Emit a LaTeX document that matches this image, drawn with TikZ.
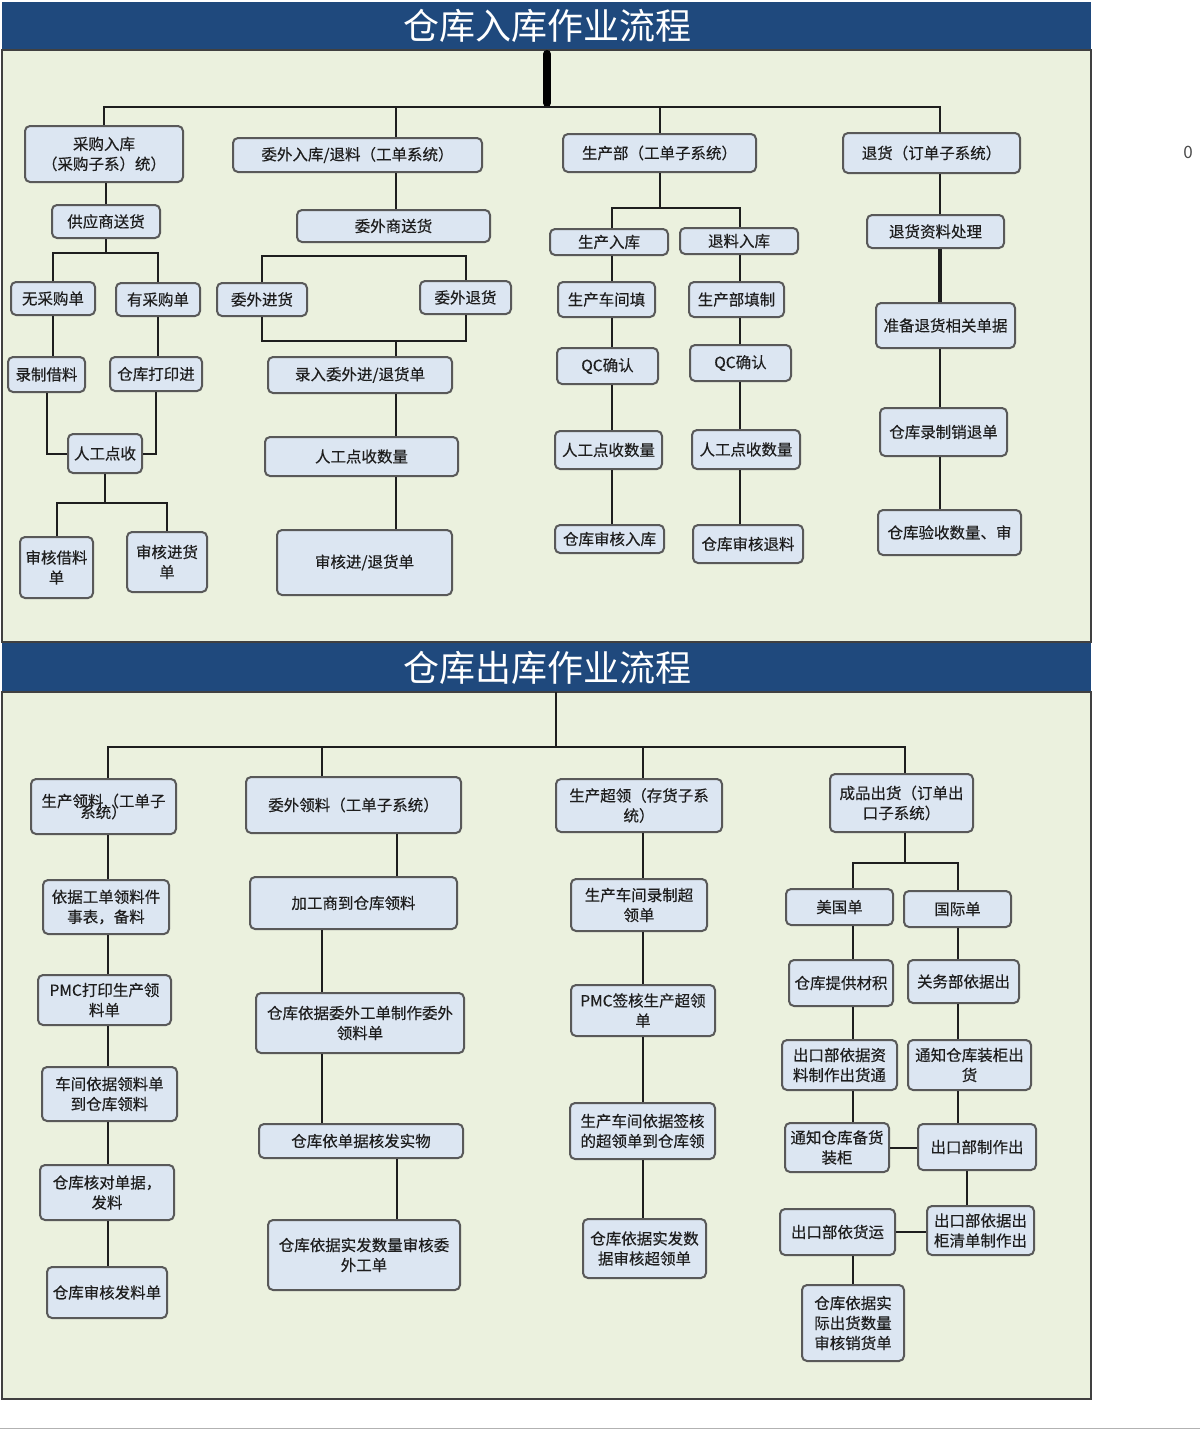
\documentclass[tikz,border=0pt]{standalone}
\usepackage{fontspec}
\setmainfont{Noto Sans CJK SC}
\newfontfamily\boxfont{Noto Sans CJK SC}[FakeBold=0.3]
\definecolor{barblue}{HTML}{1F497D}
\definecolor{panelgreen}{HTML}{EBF1DE}
\definecolor{boxfill}{HTML}{DCE6F2}
\definecolor{boxline}{HTML}{595959}
\definecolor{txt}{HTML}{1E1E1E}

\begin{document}
\begin{tikzpicture}[x=1pt,y=-1pt,
    box/.style={draw=boxline, fill=boxfill, line width=2pt, rounded corners=5pt,
      inner sep=1pt, align=center, text=txt, font=\boxfont\fontsize{15.5}{20}\selectfont},
    conn/.style={draw=txt, line width=2pt},
    heading/.style={text=white, font=\fontsize{36}{40}\selectfont}]
    \useasboundingbox (0,0) rectangle (1200,1429);
    \fill[white] (0,0) rectangle (1200,1429);
    \draw[black!30, line width=1pt] (0,1428) -- (1200,1428);

    \fill[barblue] (2,2) rectangle (1091,50);
    \filldraw[fill=panelgreen, draw=black!75, line width=1.5pt] (2,50) rectangle (1091,642);
    \fill[barblue] (2,643) rectangle (1091,692);
    \filldraw[fill=panelgreen, draw=black!75, line width=1.5pt] (2,692) rectangle (1091,1399);
    \node[heading] (ttl1) at (547,26) {仓库入库作业流程};
    \node[heading] (ttl2) at (547,668) {仓库出库作业流程};
    \node[text=black!70, font=\fontsize{17}{20}\selectfont] (zero) at (1188,152) {0};

    \node[box, minimum width=158, minimum height=56] (a1) at (104,154) {采购入库\\（采购子系）统）};
    \node[box, minimum width=108, minimum height=33] (a2) at (106,221.5) {供应商送货};
    \node[box, minimum width=84, minimum height=33] (a3) at (53,298.5) {无采购单};
    \node[box, minimum width=84, minimum height=33] (a4) at (158,299.5) {有采购单};
    \node[box, minimum width=77, minimum height=35] (a5) at (46.5,374.5) {录制借料};
    \node[box, minimum width=92, minimum height=34] (a6) at (156,374) {仓库打印进};
    \node[box, minimum width=74, minimum height=39] (a7) at (105,453.5) {人工点收};
    \node[box, minimum width=73, minimum height=61] (a8) at (56.5,567.5) {审核借料\\单};
    \node[box, minimum width=80, minimum height=60] (a9) at (167,562) {审核进货\\单};

    \node[box, minimum width=249, minimum height=34] (b1) at (357.5,155) {委外入库/退料（工单系统）};
    \node[box, minimum width=193, minimum height=32] (b2) at (393.5,226) {委外商送货};
    \node[box, minimum width=90, minimum height=33] (b3) at (262,299.5) {委外进货};
    \node[box, minimum width=91, minimum height=33] (b4) at (465.5,297.5) {委外退货};
    \node[box, minimum width=184, minimum height=36] (b5) at (360,375) {录入委外进/退货单};
    \node[box, minimum width=193, minimum height=39] (b6) at (361.5,456.5) {人工点收数量};
    \node[box, minimum width=175, minimum height=65] (b7) at (364.5,562.5) {审核进/退货单};

    \node[box, minimum width=193, minimum height=38] (c1) at (659.5,153) {生产部（工单子系统）};
    \node[box, minimum width=118, minimum height=26] (c2) at (609,242) {生产入库};
    \node[box, minimum width=118, minimum height=26] (c3) at (739,241) {退料入库};
    \node[box, minimum width=97, minimum height=35] (c4) at (606.5,299.5) {生产车间填};
    \node[box, minimum width=95, minimum height=35] (c5) at (736.5,299.5) {生产部填制};
    \node[box, minimum width=101, minimum height=36] (c6) at (607.5,366) {QC确认};
    \node[box, minimum width=101, minimum height=36] (c7) at (740.5,363) {QC确认};
    \node[box, minimum width=107, minimum height=38] (c8) at (608.5,450) {人工点收数量};
    \node[box, minimum width=108, minimum height=39] (c9) at (746,449.5) {人工点收数量};
    \node[box, minimum width=109, minimum height=28] (c10) at (609.5,539) {仓库审核入库};
    \node[box, minimum width=110, minimum height=38] (c11) at (748,544) {仓库审核退料};

    \node[box, minimum width=177, minimum height=40] (d1) at (931.5,153) {退货（订单子系统）};
    \node[box, minimum width=137, minimum height=33] (d2) at (935.5,231.5) {退货资料处理};
    \node[box, minimum width=139, minimum height=45] (d3) at (945.5,325.5) {准备退货相关单据};
    \node[box, minimum width=127, minimum height=48] (d4) at (943.5,432) {仓库录制销退单};
    \node[box, minimum width=143, minimum height=45] (d5) at (949.5,532.5) {仓库验收数量、审};

    \node[box, minimum width=145, minimum height=55] (e1) at (103.5,806.5) {生产领料（工单子\\[-9pt]系统）};
    \node[box, minimum width=126, minimum height=54] (e2) at (106,907) {依据工单领料件\\事表，备料};
    \node[box, minimum width=133, minimum height=50] (e3) at (104.5,1000) {PMC打印生产领\\料单};
    \node[box, minimum width=135, minimum height=54] (e4) at (109.5,1094) {车间依据领料单\\到仓库领料};
    \node[box, minimum width=134, minimum height=55] (e5) at (107,1192.5) {仓库核对单据，\\发料};
    \node[box, minimum width=120, minimum height=51] (e6) at (107,1292.5) {仓库审核发料单};

    \node[box, minimum width=215, minimum height=56] (f1) at (353.5,805) {委外领料（工单子系统）};
    \node[box, minimum width=207, minimum height=52] (f2) at (353.5,903) {加工商到仓库领料};
    \node[box, minimum width=208, minimum height=60] (f3) at (360,1023) {仓库依据委外工单制作委外\\领料单};
    \node[box, minimum width=204, minimum height=34] (f4) at (361,1141) {仓库依单据核发实物};
    \node[box, minimum width=192, minimum height=70] (f5) at (364,1255) {仓库依据实发数量审核委\\外工单};

    \node[box, minimum width=166, minimum height=53] (g1) at (639,805.5) {生产超领（存货子系\\统）};
    \node[box, minimum width=136, minimum height=52] (g2) at (639,905) {生产车间录制超\\领单};
    \node[box, minimum width=144, minimum height=51] (g3) at (643,1010.5) {PMC签核生产超领\\单};
    \node[box, minimum width=145, minimum height=56] (g4) at (642.5,1131) {生产车间依据签核\\的超领单到仓库领};
    \node[box, minimum width=123, minimum height=59] (g5) at (644.5,1248.5) {仓库依据实发数\\据审核超领单};

    \node[box, minimum width=143, minimum height=58] (h1) at (901.5,803) {成品出货（订单出\\口子系统）};
    \node[box, minimum width=107, minimum height=36] (h2) at (839.5,907) {美国单};
    \node[box, minimum width=107, minimum height=36] (h3) at (957.5,909) {国际单};
    \node[box, minimum width=104, minimum height=46] (h4) at (841,983) {仓库提供材积};
    \node[box, minimum width=111, minimum height=43] (h5) at (963.5,981.5) {关务部依据出};
    \node[box, minimum width=115, minimum height=50] (h6) at (839.5,1065) {出口部依据资\\料制作出货通};
    \node[box, minimum width=123, minimum height=50] (h7) at (969.5,1065) {通知仓库装柜出\\货};
    \node[box, minimum width=104, minimum height=49] (h8) at (837,1147.5) {通知仓库备货\\装柜};
    \node[box, minimum width=118, minimum height=46] (h9) at (977,1147) {出口部制作出};
    \node[box, minimum width=115, minimum height=46] (h10) at (837.5,1232) {出口部依货运};
    \node[box, minimum width=107, minimum height=49] (h11) at (980.5,1230.5) {出口部依据出\\柜清单制作出};
    \node[box, minimum width=102, minimum height=76] (h12) at (853,1323) {仓库依据实\\际出货数量\\审核销货单};

    \coordinate (ta) at (547,54);
    \coordinate (tb) at (547,103);
    \coordinate (th) at (547,107);
    \coordinate (ua) at (556,692);
    \coordinate (ub) at (556,747);
    \coordinate (bx) at (396,0);
    \coordinate (cl) at (612,0);
    \coordinate (cr) at (740,0);
    \coordinate (dx) at (940,0);
    \coordinate (ex) at (108,0);
    \coordinate (fa) at (322,0);
    \coordinate (fb) at (397,0);
    \coordinate (gx) at (643,0);
    \coordinate (hx) at (905,0);
    \coordinate (hl) at (853,0);
    \coordinate (hr) at (958,0);
    \coordinate (hq) at (967,0);

    \draw[line width=8pt, line cap=round] (ta) -- (tb);
    \draw[conn, line width=2.5pt] (a1.north) |- (th) -| (d1.north -| dx);
    \draw[conn] (th -| bx) -- (b1.north -| bx);
    \draw[conn] (th -| c1.north) -- (c1.north);

    \draw[conn] (a1.south -| a2.north) -- (a2.north);
    \draw[conn] (a2.south) -- ++(0,14) coordinate (ai);
    \draw[conn] (a3.north) |- (ai) -| (a4.north);
    \draw[conn] (a3.south) -- (a3.south |- a5.north);
    \draw[conn] (a4.south) -- (a4.south |- a6.north);
    \draw[conn] (a5.south) |- (a7.west);
    \draw[conn] (a6.south) |- (a7.east);
    \draw[conn] (a7.south) -- ++(0,29) coordinate (aj);
    \draw[conn] (a8.north) |- (aj) -| (a9.north);

    \draw[conn] (b1.south -| bx) -- (b2.north -| bx);
    \draw[conn] (b3.north) -- ++(0,-26) -| (b4.north);
    \draw[conn] (b3.south) -- ++(0,24) coordinate (bj) -| (b4.south);
    \draw[conn] (bj -| bx) -- (b5.north -| bx);
    \foreach \p/\q in {b5/b6,b6/b7}
      \draw[conn] (\p.south -| bx) -- (\q.north -| bx);

    \draw[conn] (c1.south) -- ++(0,35) coordinate (cj);
    \draw[conn] (c2.north -| cl) |- (cj) -| (c3.north -| cr);
    \foreach \p/\q in {c2/c4,c4/c6,c6/c8,c8/c10}
      \draw[conn] (\p.south -| cl) -- (\q.north -| cl);
    \foreach \p/\q in {c3/c5,c5/c7,c7/c9,c9/c11}
      \draw[conn] (\p.south -| cr) -- (\q.north -| cr);

    \foreach \p/\q in {d1/d2,d3/d4,d4/d5}
      \draw[conn] (\p.south -| dx) -- (\q.north -| dx);
    \draw[conn, line width=3.5pt] (d2.south -| dx) -- (d3.north -| dx);

    \draw[conn] (ua) -- (ub);
    \draw[conn, line width=2.5pt] (e1.north -| ex) |- (ub) -| (h1.north -| hx);
    \draw[conn] (ub -| fa) -- (f1.north -| fa);
    \draw[conn] (ub -| gx) -- (g1.north -| gx);

    \foreach \p/\q in {e1/e2,e2/e3,e3/e4,e4/e5,e5/e6}
      \draw[conn] (\p.south -| ex) -- (\q.north -| ex);

    \draw[conn] (f1.south -| fb) -- (f2.north -| fb);
    \draw[conn] (f2.south -| fa) -- (f3.north -| fa);
    \draw[conn] (f3.south -| fa) -- (f4.north -| fa);
    \draw[conn] (f4.south -| fb) -- (f5.north -| fb);

    \foreach \p/\q in {g1/g2,g2/g3,g3/g4,g4/g5}
      \draw[conn] (\p.south -| gx) -- (\q.north -| gx);

    \draw[conn] (h1.south -| hx) -- ++(0,30) coordinate (hj);
    \draw[conn] (h2.north -| hl) |- (hj) -| (h3.north -| hr);
    \foreach \p/\q in {h2/h4,h4/h6,h6/h8}
      \draw[conn] (\p.south -| hl) -- (\q.north -| hl);
    \foreach \p/\q in {h3/h5,h5/h7,h7/h9}
      \draw[conn] (\p.south -| hr) -- (\q.north -| hr);
    \draw[conn] (h9.south -| hq) -- (h11.north -| hq);
    \draw[conn] (h8.east) -- (h8.east -| h9.west);
    \draw[conn] (h10.east) -- (h10.east -| h11.west);
    \draw[conn] (h10.south -| h12.north) -- (h12.north);
\end{tikzpicture}
\end{document}
